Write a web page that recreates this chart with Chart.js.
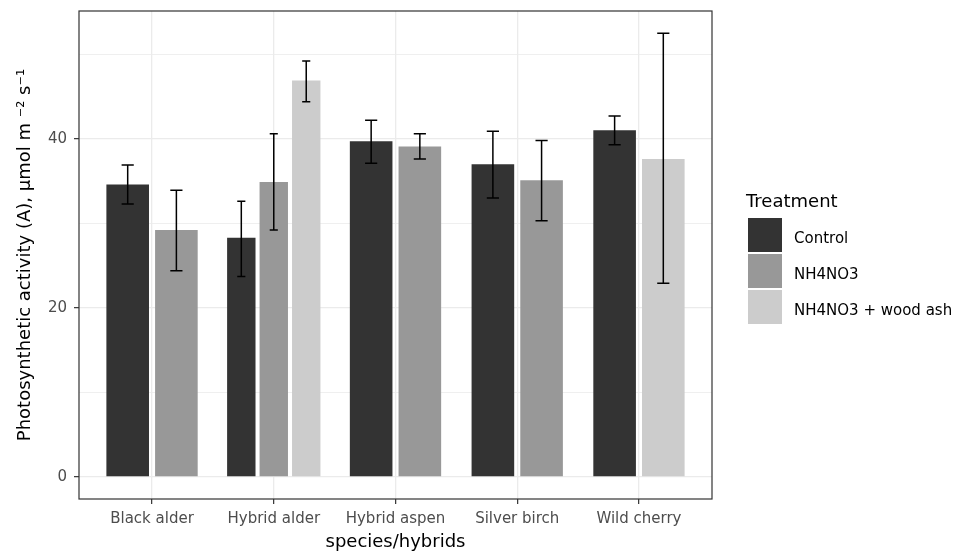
<!DOCTYPE html>
<html>
<head>
<meta charset="utf-8">
<script src="https://cdn.jsdelivr.net/npm/chart.js@4.4.0/dist/chart.umd.min.js"></script>
<style>
  html, body { margin: 0; padding: 0; background: #fff; }
  #wrap { width: 962px; height: 552px; }
</style>
</head>
<body>
<div id="wrap"><canvas id="chart" width="962" height="552"></canvas></div>
<script>
const species    = ["Black alder", "Hybrid alder", "Hybrid aspen", "Silver birch", "Wild cherry"];
const treatments = ["Control", "NH4NO3", "NH4NO3 + wood ash"];
const fills      = ["#333333", "#989898", "#CCCCCC"];

// mean and error bar ends
const controlMean = [34.6, 28.3, 39.7, 37.0, 41.0];
const controlLow  = [32.3, 23.7, 37.1, 33.0, 39.3];
const controlHigh = [36.9, 32.6, 42.2, 40.9, 42.7];

const nitrateMean = [29.2, 34.9, 39.1, 35.1, null];
const nitrateLow  = [24.4, 29.2, 37.6, 30.3, null];
const nitrateHigh = [33.9, 40.6, 40.6, 39.8, null];

const ashMean = [null, 46.9, null, null, 37.6];
const ashLow  = [null, 44.4, null, null, 22.9];
const ashHigh = [null, 49.2, null, null, 52.5];

const yTicks   = [0, 10, 20, 30, 40, 50];
const yLabeled = [0, 20, 40];

Chart.defaults.font.family = "'DejaVu Sans', sans-serif";

//error bars are drawn on top of the bars using the bar elements' own x/width
const errorBars = {
    id: 'errorBars',
    afterDatasetsDraw(chart) {
        const ctx = chart.ctx;
        const y = chart.scales.y;
        ctx.save();
        ctx.strokeStyle = '#000';
        ctx.lineWidth = 1.5;
        chart.data.datasets.forEach((ds, i) => {
            chart.getDatasetMeta(i).data.forEach((bar, j) => {
                if (ds.data[j] == null) return;
                const half = bar.width * 0.2 / 0.7 / 2;
                const top = y.getPixelForValue(ds.high[j]);
                const bot = y.getPixelForValue(ds.low[j]);
                ctx.beginPath();
                ctx.moveTo(bar.x, top); ctx.lineTo(bar.x, bot);
                ctx.moveTo(bar.x - half, top); ctx.lineTo(bar.x + half, top);
                ctx.moveTo(bar.x - half, bot); ctx.lineTo(bar.x + half, bot);
                ctx.stroke();
            });
        });
        ctx.restore();
    }
};

const panelAndLegend = {
    id: 'panelAndLegend',
    afterDraw(chart) {
        const ctx = chart.ctx;
        const a = chart.chartArea;
        ctx.save();
        ctx.strokeStyle = '#333333';
        ctx.lineWidth = 1.2;
        ctx.strokeRect(a.left, a.top, a.right - a.left, a.bottom - a.top);

        ctx.fillStyle = '#000';
        ctx.font = "18px 'DejaVu Sans'";
        ctx.textBaseline = 'alphabetic';
        ctx.fillText('Treatment', 746, 207);
        chart.data.datasets.forEach((ds, i) => {
            const top = 218 + i * 36;
            ctx.fillStyle = ds.backgroundColor;
            ctx.fillRect(748, top, 34, 34);
            ctx.fillStyle = '#000';
            ctx.font = "15px 'DejaVu Sans'";
            ctx.fillText(ds.label, 794, top + 25);
        });
        ctx.restore();
    }
};

const ctx = document.getElementById('chart').getContext('2d');
new Chart(ctx, {
    type: 'bar',
    data: {
        labels: species.map((_, i) => i),
        datasets: [
            { label: treatments[0], data: controlMean, low: controlLow, high: controlHigh, backgroundColor: fills[0] },
            { label: treatments[1], data: nitrateMean, low: nitrateLow, high: nitrateHigh, backgroundColor: fills[1] },
            { label: treatments[2], data: ashMean,     low: ashLow,     high: ashHigh,     backgroundColor: fills[2] },
        ],
    },
    options: {
        responsive: false,
        animation: false,
        skipNull: true,
        categoryPercentage: 0.8,
        barPercentage: 0.875,
        borderWidth: 0,
        layout: { padding: { left: 0, right: 250, top: 11, bottom: 0 } },
        plugins: {
            legend: { display: false },
            tooltip: { enabled: false },
        },
        scales: {
            x: {
                type: 'linear',
                min: -0.6,
                max: 4.6,
                offset: false,
                afterBuildTicks: s => { s.ticks = species.map((_, i) => ({ value: i })); },
                afterFit: s => { s.height = 53; s.paddingLeft = 0; s.paddingRight = 0; },
                border: { display: false },
                grid: {
                    offset: false,
                    color: '#EBEBEB',
                    lineWidth: 1.3,
                    tickColor: '#333333',
                    tickLength: 5,
                    tickWidth: 1.2,
                },
                ticks: {
                    autoSkip: false,
                    maxRotation: 0,
                    padding: 6,
                    color: '#4D4D4D',
                    font: { size: 15 },
                    callback: v => species[v],
                },
                title: {
                    display: true,
                    text: 'species/hybrids',
                    color: '#000',
                    font: { size: 18 },
                    padding: { top: 0, bottom: -1 },
                },
            },
            y: {
                type: 'linear',
                min: -2.625,
                max: 55.125,
                afterBuildTicks: s => { s.ticks = yTicks.map(v => ({ value: v })); },
                afterFit: s => { s.width = 79; s.paddingTop = 0; s.paddingBottom = 0; },
                border: { display: false },
                grid: {
                    color: '#EBEBEB',
                    lineWidth: c => yLabeled.includes(c.tick.value) ? 1.3 : 0.8,
                    tickColor: c => yLabeled.includes(c.tick.value) ? '#333333' : 'rgba(0,0,0,0)',
                    tickLength: 5,
                    tickWidth: 1.2,
                },
                ticks: {
                    padding: 7,
                    color: '#4D4D4D',
                    font: { size: 15 },
                    callback: v => yLabeled.includes(v) ? String(v) : '',
                },
                title: {
                    display: true,
                    text: 'Photosynthetic activity (A), µmol m ⁻² s⁻¹',
                    color: '#000',
                    font: { size: 18 },
                    padding: { top: 15, bottom: 0 },
                },
            },
        },
    },
    plugins: [errorBars, panelAndLegend],
});
</script>
</body>
</html>
